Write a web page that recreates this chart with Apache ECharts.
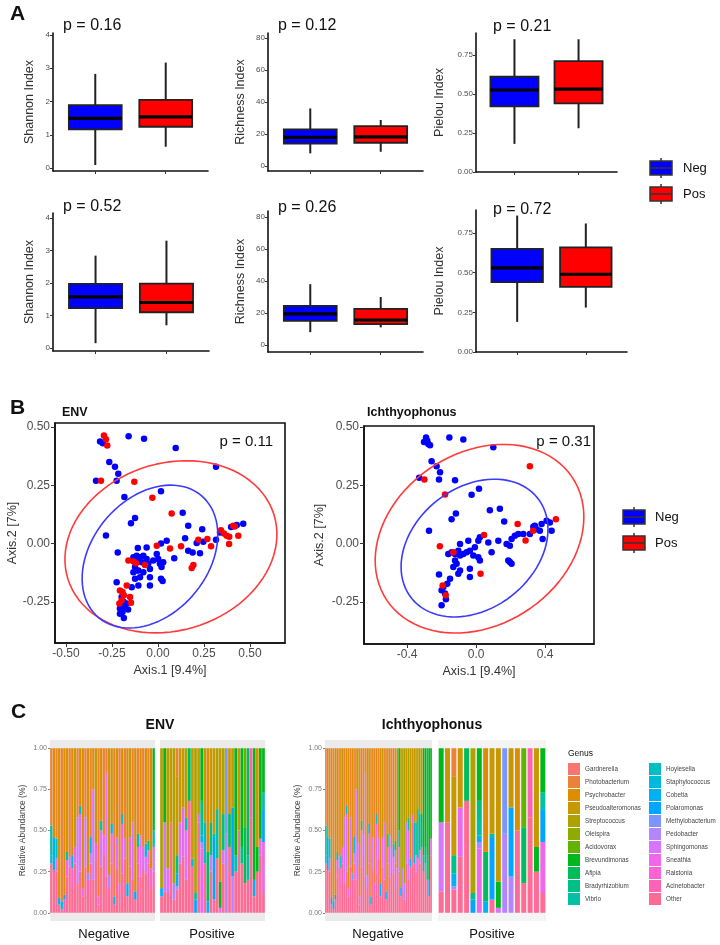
<!DOCTYPE html>
<html>
<head>
<meta charset="utf-8">
<script src="https://cdn.jsdelivr.net/npm/echarts@6/dist/echarts.min.js"></script>
<style>
html, body { margin: 0; padding: 0; background: #fff; }
#main { width: 720px; height: 945px; }
</style>
</head>
<body>
<div id="main"></div>
<script>
// ---------- panel A : alpha diversity, [min, Q1, median, Q3, max] for Neg, Pos ----------
var shannonEnv = [[0.09, 1.16, 1.49, 1.89, 2.83], [0.64, 1.24, 1.54, 2.05, 3.17]];
var richnessEnv = [[8, 14, 18, 23, 36], [9, 14.6, 18.3, 25, 28.8]];
var pielouEnv = [[0.18, 0.42, 0.525, 0.61, 0.85], [0.28, 0.44, 0.53, 0.71, 0.85]];
var shannonIch = [[0.15, 1.23, 1.57, 1.97, 2.84], [0.7, 1.1, 1.4, 1.98, 3.3]];
var richnessIch = [[8, 15, 19.4, 24.4, 38], [11, 13, 15.6, 22.5, 30]];
var pielouIch = [[0.19, 0.44, 0.53, 0.65, 0.86], [0.28, 0.41, 0.49, 0.66, 0.81]];
var pValuesA = ['0.16', '0.12', '0.21', '0.52', '0.26', '0.72'];

// ---------- panel B : PCoA points [Axis.1, Axis.2] ----------
var envNegPts = [[-0.315,0.438],[-0.30,0.43],[-0.16,0.46],[-0.076,0.45],[0.096,0.41],[0.315,0.33],
  [-0.265,0.35],[-0.234,0.33],[-0.216,0.30],[-0.337,0.27],[-0.225,0.27],[-0.183,0.20],[0.016,0.225],
  [-0.283,0.035],[-0.147,0.088],[-0.125,0.11],[0.134,0.133],[0.164,0.077],[0.24,0.062],[0.147,0.023],
  [0.21,0.003],[0.246,0.009],[0.315,0.017],[0.337,0.048],[0.397,0.072],[0.428,0.08],[0.463,0.086],
  [0.047,0.013],[0.016,0.001],[-0.219,-0.037],[-0.11,-0.018],[-0.062,-0.016],[-0.007,-0.044],
  [0.164,-0.03],[0.188,-0.037],[0.228,-0.041],[0.088,-0.062],
  [-0.134,-0.058],[-0.116,-0.051],[-0.098,-0.058],[-0.08,-0.051],[-0.062,-0.065],[-0.107,-0.072],
  [-0.089,-0.079],[-0.053,-0.086],[-0.026,-0.072],[0.001,-0.065],[0.01,-0.086],[0.028,-0.079],
  [0.019,-0.10],[-0.125,-0.10],[-0.107,-0.115],[-0.08,-0.122],[-0.134,-0.122],[-0.044,-0.108],
  [-0.098,-0.143],[-0.044,-0.143],[-0.125,-0.15],[-0.107,-0.179],[-0.044,-0.179],[0.016,-0.15],
  [0.025,-0.16],[-0.143,-0.186],[-0.225,-0.165],[-0.116,-0.115],
  [-0.198,-0.228],[-0.186,-0.249],[-0.171,-0.256],[-0.207,-0.277],[-0.193,-0.292],[-0.181,-0.273],
  [-0.163,-0.282],[-0.186,-0.318],[-0.207,-0.30]];
var envPosPts = [[-0.294,0.464],[-0.283,0.447],[-0.276,0.421],[-0.31,0.27],[-0.129,0.265],[-0.031,0.197],
  [0.074,0.129],[-0.007,-0.009],[0.065,-0.02],[0.125,-0.011],[0.219,0.017],[0.268,0.02],[0.288,-0.011],
  [0.342,0.058],[0.358,0.044],[0.373,0.034],[0.387,0.03],[0.386,-0.001],[0.436,0.034],[0.409,0.077],
  [0.417,0.074],[0.192,-0.091],[0.183,-0.104],[-0.161,-0.072],[-0.133,-0.076],[-0.12,-0.084],
  [-0.071,-0.091],[-0.17,-0.179],[-0.207,-0.20],[-0.193,-0.207],[-0.186,-0.221],[-0.198,-0.242],
  [-0.21,-0.256],[-0.152,-0.228],[-0.147,-0.253]];
var ichNegPts = [[-0.29,0.455],[-0.283,0.441],[-0.302,0.435],[-0.277,0.427],[-0.267,0.421],[-0.155,0.455],
  [-0.074,0.446],[0.10,0.413],[-0.258,0.353],[-0.229,0.332],[-0.209,0.306],[-0.215,0.275],[-0.33,0.282],
  [-0.122,0.272],[0.017,0.235],[-0.026,0.209],[0.08,0.143],[0.138,0.15],[-0.117,0.129],[-0.142,0.105],
  [-0.273,0.055],[0.163,0.095],
  [-0.161,-0.044],[-0.142,-0.037],[-0.122,-0.044],[-0.103,-0.03],[-0.093,-0.051],[-0.074,-0.044],
  [-0.055,-0.037],[-0.036,-0.03],[-0.007,-0.016],[0.013,0.012],[0.022,0.027],[0.071,0.005],[0.09,-0.037],
  [0.129,0.012],[0.177,-0.002],[0.196,-0.009],[0.206,0.02],[0.225,0.034],[0.245,0.041],[0.274,0.041],
  [0.312,0.041],[0.332,0.072],[0.351,0.062],[0.37,0.055],[0.386,0.02],[0.409,0.098],[0.428,0.091],
  [0.438,0.055],[0.38,0.084],[0.341,0.077],[-0.122,-0.072],[-0.113,-0.086],[-0.132,-0.1],[-0.093,-0.115],
  [-0.103,-0.129],[-0.036,-0.108],[-0.036,-0.143],[0.013,-0.058],[0.022,-0.072],[0.187,-0.072],
  [0.196,-0.079],[0.206,-0.086],[-0.151,-0.15],[-0.167,-0.172],[-0.19,-0.186],[-0.2,-0.2],[-0.18,-0.214],
  [-0.2,-0.264],[-0.215,-0.132],[-0.093,-0.002],[-0.045,0.012],[-0.016,-0.051],[-0.175,-0.238]];
var ichPosPts = [[-0.30,0.275],[-0.18,0.211],[0.312,0.332],[-0.21,-0.011],[0.046,0.037],[0.241,0.084],
  [0.331,0.055],[0.287,0.013],[0.463,0.105],[-0.132,-0.037],[0.026,-0.129],[-0.194,-0.179],[-0.176,-0.221]];

// 95% ellipses: [cx, cy, major dx, major dy, minor dx, minor dy]
var envNegEllipse = [-0.044, -0.055, 0.278, 0.262, -0.242, 0.158];
var envPosEllipse = [0.07, -0.013, 0.559, 0.140, -0.139, 0.341];
var ichNegEllipse = [-0.009, -0.019, 0.363, 0.217, -0.223, 0.200];
var ichPosEllipse = [0.02, 0.021, 0.537, 0.264, -0.279, 0.306];
var pValuesB = ['0.11', '0.31'];

// ---------- panel C : genus composition ----------
var genera = ['Gardnerella','Photobacterium','Psychrobacter','Pseudoalteromonas','Streptococcus','Oleispira',
  'Acidovorax','Brevundimonas','Afipia','Bradyrhizobium','Vibrio','Hoylesella','Staphylococcus','Cobetia',
  'Polaromonas','Methylobacterium','Pedobacter','Sphingomonas','Sneathia','Ralstonia','Acinetobacter','Other'];

// ENV negative samples (all Ichthyophonus negative): [genus index, fraction]
var envNegSamples = [
  [[21,.30],[10,.18],[12,.05],[1,.47]], [[21,.26],[13,.20],[2,.54]], [[21,.25],[18,.08],[11,.12],[1,.55]],
  [[21,.05],[13,.04],[2,.91]], [[21,.02],[12,.05],[1,.93]], [[20,.08],[14,.03],[2,.89]],
  [[21,.22],[18,.10],[10,.05],[2,.63]], [[21,.28],[17,.06],[1,.66]], [[21,.15],[19,.12],[11,.08],[2,.65]],
  [[21,.30],[18,.10],[3,.60]], [[21,.18],[17,.40],[1,.42]], [[21,.25],[17,.35],[12,.05],[2,.35]],
  [[21,.10],[18,.05],[2,.85]], [[21,.28],[17,.30],[1,.42]], [[21,.12],[20,.08],[15,.04],[2,.76]],
  [[21,.30],[16,.06],[13,.10],[1,.54]], [[21,.20],[17,.55],[2,.25]], [[21,.32],[19,.10],[3,.58]],
  [[21,.05],[18,.05],[1,.90]], [[21,.28],[17,.22],[10,.06],[2,.44]], [[21,.35],[18,.12],[1,.53]],
  [[21,.22],[17,.63],[1,.15]], [[21,.15],[16,.08],[2,.77]], [[21,.30],[18,.18],[13,.06],[3,.46]],
  [[21,.05],[12,.05],[1,.90]], [[21,.26],[17,.20],[2,.54]], [[21,.12],[19,.06],[1,.82]],
  [[21,.24],[18,.30],[11,.06],[2,.40]], [[21,.33],[17,.12],[1,.55]], [[21,.10],[13,.08],[2,.82]],
  [[21,.28],[18,.18],[3,.54]], [[21,.20],[17,.35],[1,.45]], [[21,.08],[14,.05],[2,.87]],
  [[21,.30],[19,.10],[10,.08],[1,.52]], [[21,.22],[17,.25],[2,.53]], [[21,.26],[18,.14],[1,.60]],
  [[21,.24],[17,.10],[12,.08],[2,.58]], [[21,.30],[18,.08],[9,.06],[1,.56]], [[21,.15],[18,.12],[2,.73]],
  [[21,.25],[17,.15],[11,.10],[7,.50]]
];
// ENV positive samples: Ichthyophonus status and composition
var envPosIch = ['N','P','N','P','N','P','N','P','N','P','N','P','N','P','N','P','N',
                 'P','N','P','N','P','N','P','N','P','N','P','N','P','N','P','N','P'];
var envPosSamples = [
  [[21,.10],[13,.05],[4,.85]], [[21,.13],[17,.42],[7,.45]],
  [[21,.12],[17,.15],[4,.73]], [[21,.55],[3,.45]],
  [[21,.08],[16,.10],[4,.82]], [[21,.14],[16,.02],[13,.08],[9,.11],[3,.48],[1,.17]],
  [[21,.30],[17,.25],[3,.45]], [[21,.34],[18,.30],[3,.36]],
  [[21,.20],[17,.30],[10,.08],[4,.42]], [[21,.68],[8,.32]],
  [[21,.28],[12,.05],[3,.67]], [[14,.08],[9,.04],[4,.88]],
  [[21,.55],[18,.05],[3,.40]], [[16,.04],[18,.39],[13,.04],[10,.10],[9,.11],[7,.32]],
  [[21,.30],[11,.25],[3,.45]], [[13,.07],[8,.30],[2,.63]],
  [[21,.25],[17,.10],[9,.20],[3,.45]], [[21,.08],[14,.38],[10,.02],[3,.52]],
  [[21,.33],[10,.30],[4,.37]], [[17,.03],[7,.16],[3,.81]],
  [[21,.30],[17,.08],[9,.22],[4,.40]], [[16,.48],[15,.52]],
  [[21,.40],[8,.20],[3,.40]], [[16,.22],[14,.42],[3,.36]],
  [[21,.25],[10,.10],[7,.65]], [[21,.50],[2,.50]],
  [[21,.30],[9,.10],[7,.60]], [[21,.18],[8,.34],[6,.48]],
  [[21,.20],[10,.15],[8,.65]], [[21,.58],[20,.42]],
  [[21,.10],[13,.10],[7,.80]], [[21,.25],[7,.15],[3,.60]],
  [[21,.35],[18,.10],[7,.55]], [[21,.12],[18,.31],[14,.20],[10,.10],[7,.27]]
];

// ---------- helpers ----------
function hcl(h, c, l) {
  var hr = h * Math.PI / 180, u = c * Math.cos(hr), v = c * Math.sin(hr);
  var Y = Math.pow((l + 16) / 116, 3);
  var up = u / (13 * l) + 0.1978398, vp = v / (13 * l) + 0.4683363;
  var X = Y * 9 * up / (4 * vp), Z = Y * (12 - 3 * up - 20 * vp) / (4 * vp);
  var r = 3.240479 * X - 1.537150 * Y - 0.498535 * Z;
  var g = -0.969256 * X + 1.875992 * Y + 0.041556 * Z;
  var b = 0.055648 * X - 0.204043 * Y + 1.057311 * Z;
  function gm(t) { t = t <= 0.0031308 ? 12.92 * t : 1.055 * Math.pow(t, 1 / 2.4) - 0.055; return Math.round(Math.max(0, Math.min(1, t)) * 255); }
  return 'rgb(' + gm(r) + ',' + gm(g) + ',' + gm(b) + ')';
}
var genusColors = genera.map(function (g, i) { return hcl(15 + i * 360 / genera.length, 100, 65); });

function ellipse(p) {
  var pts = [];
  for (var a = 0; a <= 360; a += 4) {
    var t = a * Math.PI / 180;
    pts.push([p[0] + p[2] * Math.cos(t) + p[4] * Math.sin(t), p[1] + p[3] * Math.cos(t) + p[5] * Math.sin(t)]);
  }
  return pts;
}

var FONT = 'Liberation Sans, Arial, sans-serif';
var boxFill = ['#0000FF', '#FF0000'];

function renderBox(params, api) {
  var x = api.value(0);
  var lo = api.coord([x, api.value(1)]), q1 = api.coord([x, api.value(2)]), md = api.coord([x, api.value(3)]);
  var q3 = api.coord([x, api.value(4)]), hi = api.coord([x, api.value(5)]);
  var hw = api.size([0.75, 0])[0] / 2, cx = lo[0];
  return { type: 'group', children: [
    { type: 'line', shape: { x1: cx, y1: hi[1], x2: cx, y2: lo[1] }, style: { stroke: '#222', lineWidth: 2 } },
    { type: 'rect', shape: { x: cx - hw, y: q3[1], width: hw * 2, height: q1[1] - q3[1] }, style: { fill: boxFill[params.dataIndex], stroke: '#222', lineWidth: 1.8 } },
    { type: 'line', shape: { x1: cx - hw, y1: md[1], x2: cx + hw, y2: md[1] }, style: { stroke: '#000', lineWidth: 3.2 } }
  ] };
}

var grids = [], xAxes = [], yAxes = [], series = [];

// panel A
var boxPanels = [
  { d: shannonEnv, name: 'Shannon Index', ticks: [0, 1, 2, 3, 4], dec: 0, min: -0.09, max: 4.06, g: [53, 33, 155, 138], gap: 17 },
  { d: richnessEnv, name: 'Richness Index', ticks: [0, 20, 40, 60, 80], dec: 0, min: -3, max: 83, g: [268, 33, 155, 138], gap: 21 },
  { d: pielouEnv, name: 'Pielou Index', ticks: [0, 0.25, 0.5, 0.75], dec: 2, min: 0, max: 0.89, g: [476, 33, 141, 139], gap: 30 },
  { d: shannonIch, name: 'Shannon Index', ticks: [0, 1, 2, 3, 4], dec: 0, min: -0.09, max: 4.15, g: [53, 213, 156, 138], gap: 17 },
  { d: richnessIch, name: 'Richness Index', ticks: [0, 20, 40, 60, 80], dec: 0, min: -4.4, max: 83.75, g: [268, 211, 155, 141], gap: 21 },
  { d: pielouIch, name: 'Pielou Index', ticks: [0, 0.25, 0.5, 0.75], dec: 2, min: 0, max: 0.895, g: [476, 210, 151, 142], gap: 30 }
];
boxPanels.forEach(function (p, i) {
  grids.push({ left: p.g[0], top: p.g[1], width: p.g[2], height: p.g[3], outerBoundsMode: 'none' });
  xAxes.push({ gridIndex: i, type: 'value', min: 0.4, max: 2.6,
    axisLine: { onZero: false, lineStyle: { color: '#111', width: 1.6 } },
    axisTick: { customValues: [1, 2], length: 3, lineStyle: { color: '#333' } },
    axisLabel: { show: false }, splitLine: { show: false } });
  yAxes.push({ gridIndex: i, type: 'value', min: p.min, max: p.max,
    axisLine: { show: true, onZero: false, lineStyle: { color: '#111', width: 1.6 } },
    axisTick: { show: true, customValues: p.ticks, length: 3, lineStyle: { color: '#333' } },
    axisLabel: { customValues: p.ticks, fontSize: 8, color: '#4d4d4d', margin: 3, fontFamily: FONT,
      formatter: function (v) { return Number(v).toFixed(p.dec); } },
    splitLine: { show: false },
    name: p.name, nameLocation: 'middle', nameGap: p.gap, nameRotate: 90,
    nameTextStyle: { fontSize: 12.5, color: '#333', fontFamily: FONT } });
  series.push({ type: 'custom', xAxisIndex: i, yAxisIndex: i, renderItem: renderBox, silent: true,
    encode: { x: 0, y: [1, 2, 3, 4, 5] },
    data: p.d.map(function (b, k) { return [k + 1].concat(b); }) });
});

// panel B
var pcoa = [
  { neg: envNegPts, pos: envPosPts, en: envNegEllipse, ep: envPosEllipse, g: [55, 423, 230, 220],
    xmin: -0.56, xmax: 0.69, xt: [-0.5, -0.25, 0, 0.25, 0.5], xd: 2, ymin: -0.425, ymax: 0.517, gap: 29 },
  { neg: ichNegPts, pos: ichPosPts, en: ichNegEllipse, ep: ichPosEllipse, g: [364, 426, 230, 218],
    xmin: -0.65, xmax: 0.684, xt: [-0.4, 0, 0.4], xd: 1, ymin: -0.43, ymax: 0.504, gap: 38 }
];
pcoa.forEach(function (p, j) {
  var i = 6 + j;
  grids.push({ left: p.g[0], top: p.g[1], width: p.g[2], height: p.g[3], show: true, borderColor: '#111', borderWidth: 1.6, outerBoundsMode: 'none' });
  xAxes.push({ gridIndex: i, type: 'value', min: p.xmin, max: p.xmax,
    axisLine: { onZero: false, lineStyle: { color: '#111', width: 1.6 } },
    axisTick: { customValues: p.xt, length: 4, lineStyle: { color: '#333' } },
    axisLabel: { customValues: p.xt, fontSize: 12, color: '#4d4d4d', margin: 5, fontFamily: FONT,
      formatter: function (v) { return Number(v).toFixed(p.xd); } },
    splitLine: { show: false },
    name: 'Axis.1 [9.4%]', nameLocation: 'middle', nameGap: 21,
    nameTextStyle: { fontSize: 12.5, color: '#333', fontFamily: FONT } });
  yAxes.push({ gridIndex: i, type: 'value', min: p.ymin, max: p.ymax,
    axisLine: { show: true, onZero: false, lineStyle: { color: '#111', width: 1.6 } },
    axisTick: { show: true, customValues: [-0.25, 0, 0.25, 0.5], length: 4, lineStyle: { color: '#333' } },
    axisLabel: { customValues: [-0.25, 0, 0.25, 0.5], fontSize: 12, color: '#4d4d4d', margin: 5, fontFamily: FONT,
      formatter: function (v) { return Number(v).toFixed(2); } },
    splitLine: { show: false },
    name: 'Axis.2 [7%]', nameLocation: 'middle', nameGap: p.gap, nameRotate: 90,
    nameTextStyle: { fontSize: 12.5, color: '#333', fontFamily: FONT } });
  series.push({ type: 'line', xAxisIndex: i, yAxisIndex: i, data: ellipse(p.ep), showSymbol: false, silent: true,
    lineStyle: { color: '#FF3B3B', width: 1.6 } });
  series.push({ type: 'line', xAxisIndex: i, yAxisIndex: i, data: ellipse(p.en), showSymbol: false, silent: true,
    lineStyle: { color: '#3B3BFF', width: 1.6 } });
  series.push({ type: 'scatter', xAxisIndex: i, yAxisIndex: i, data: p.neg, symbolSize: 6.5, silent: true,
    itemStyle: { color: '#0000FF', opacity: 1 } });
  series.push({ type: 'scatter', xAxisIndex: i, yAxisIndex: i, data: p.pos, symbolSize: 6.5, silent: true,
    itemStyle: { color: '#FF0000', opacity: 1 } });
});

// panel C
var ichNegSamples = envNegSamples.concat(envPosSamples.filter(function (s, k) { return envPosIch[k] === 'N'; }));
var ichPosSamples = envPosSamples.filter(function (s, k) { return envPosIch[k] === 'P'; });
var barPanels = [
  { s: envNegSamples, g: [50, 740, 105, 181], first: true, gapPct: '12%', bg: '#EBEBEB' },
  { s: envPosSamples, g: [160, 740, 105, 181], first: false, gapPct: '12%', bg: '#EBEBEB' },
  { s: ichNegSamples, g: [325, 740, 107, 181], first: true, gapPct: '12%', bg: '#EBEBEB' },
  { s: ichPosSamples, g: [438, 740, 108, 181], first: false, gapPct: '22%', bg: '#F4F4F4' }
];
barPanels.forEach(function (p, j) {
  var i = 8 + j;
  grids.push({ left: p.g[0], top: p.g[1], width: p.g[2], height: p.g[3], show: true, backgroundColor: p.bg, borderWidth: 0, outerBoundsMode: 'none' });
  xAxes.push({ gridIndex: i, type: 'category', data: p.s.map(function (s, k) { return 'S' + j + '_' + k; }),
    axisLine: { show: false }, axisTick: { show: false }, axisLabel: { show: false }, splitLine: { show: false } });
  yAxes.push({ gridIndex: i, type: 'value', min: -0.05, max: 1.05,
    axisLine: { show: false },
    axisTick: { show: p.first, customValues: [0, 0.25, 0.5, 0.75, 1], length: 2, lineStyle: { color: '#888' } },
    axisLabel: { show: p.first, customValues: [0, 0.25, 0.5, 0.75, 1], fontSize: 7, color: '#7a7a7a', margin: 3, fontFamily: FONT,
      formatter: function (v) { return Number(v).toFixed(2); } },
    splitLine: { show: false },
    name: p.first ? 'Relative Abundance (%)' : '', nameLocation: 'middle', nameGap: 23, nameRotate: 90,
    nameTextStyle: { fontSize: 8.5, color: '#444', fontFamily: FONT } });
  var totals = p.s.map(function (comp) { return comp.reduce(function (a, c) { return a + c[1]; }, 0); });
  for (var k = genera.length - 1; k >= 0; k--) {
    series.push({ type: 'bar', name: genera[k], xAxisIndex: i, yAxisIndex: i, stack: 'st' + i, silent: true,
      barCategoryGap: p.gapPct, itemStyle: { color: genusColors[k] },
      data: p.s.map(function (comp, n) {
        var v = 0;
        comp.forEach(function (c) { if (c[0] === k) v += c[1]; });
        return v / totals[n];
      }) });
  }
});

// ---------- text and legend glyphs ----------
function txt(x, y, s, size, weight, align) {
  return { type: 'text', x: x, y: y, silent: true,
    style: { text: s, fontSize: size, fontWeight: weight || 'normal', fill: '#111', fontFamily: FONT,
      textAlign: align || 'left', textVerticalAlign: 'middle' } };
}
function glyph(x, y, fill) {
  return { type: 'group', x: x, y: y, silent: true, children: [
    { type: 'line', shape: { x1: 11, y1: -10, x2: 11, y2: 10 }, style: { stroke: '#333', lineWidth: 1.5 } },
    { type: 'rect', shape: { x: 0, y: -7, width: 22, height: 14 }, style: { fill: fill, stroke: '#333', lineWidth: 1.5 } },
    { type: 'line', shape: { x1: 0, y1: 0, x2: 22, y2: 0 }, style: { stroke: '#333', lineWidth: 1.5 } }
  ] };
}
var pPosA = [[63, 26], [278, 26], [493, 27], [63, 207], [278, 208], [493, 210]];
var graphics = [
  txt(10, 14, 'A', 21, 'bold'), txt(10, 408, 'B', 21, 'bold'), txt(11, 712, 'C', 21, 'bold'),
  txt(62, 413, 'ENV', 12.5, 'bold'), txt(367, 413, 'Ichthyophonus', 12.5, 'bold'),
  txt(273, 442, 'p = ' + pValuesB[0], 15, 'normal', 'right'), txt(591, 442, 'p = ' + pValuesB[1], 15, 'normal', 'right'),
  txt(160, 725, 'ENV', 14, 'bold', 'center'), txt(432, 725, 'Ichthyophonus', 14, 'bold', 'center'),
  txt(104, 934, 'Negative', 13, 'normal', 'center'), txt(212, 934, 'Positive', 13, 'normal', 'center'),
  txt(378, 934, 'Negative', 13, 'normal', 'center'), txt(492, 934, 'Positive', 13, 'normal', 'center'),
  txt(568, 754, 'Genus', 8.5),
  glyph(650, 168, '#0000FF'), glyph(650, 194, '#FF0000'), txt(683, 168, 'Neg', 13), txt(683, 194, 'Pos', 13),
  glyph(623, 517, '#0000FF'), glyph(623, 543, '#FF0000'), txt(655, 517, 'Neg', 13), txt(655, 543, 'Pos', 13)
];
pValuesA.forEach(function (p, i) { graphics.push(txt(pPosA[i][0], pPosA[i][1], 'p = ' + p, 16)); });

var legendBase = { orient: 'vertical', icon: 'rect', itemWidth: 12, itemHeight: 12, itemGap: 1, selectedMode: false,
  padding: 0, itemStyle: { borderWidth: 0 },
  textStyle: { fontSize: 6.3, color: '#444', fontFamily: FONT, padding: [0, 0, 0, 0] } };

var myChart = echarts.init(document.getElementById('main'), null, { renderer: 'canvas' });
var option = {
  animation: false,
  backgroundColor: '#fff',
  textStyle: { fontFamily: FONT },
  grid: grids,
  xAxis: xAxes,
  yAxis: yAxes,
  legend: [
    Object.assign({}, legendBase, { left: 568, top: 763, data: genera.slice(0, 11) }),
    Object.assign({}, legendBase, { left: 649, top: 763, data: genera.slice(11) })
  ],
  graphic: graphics,
  series: series
};
myChart.setOption(option, true);
</script>
</body>
</html>
